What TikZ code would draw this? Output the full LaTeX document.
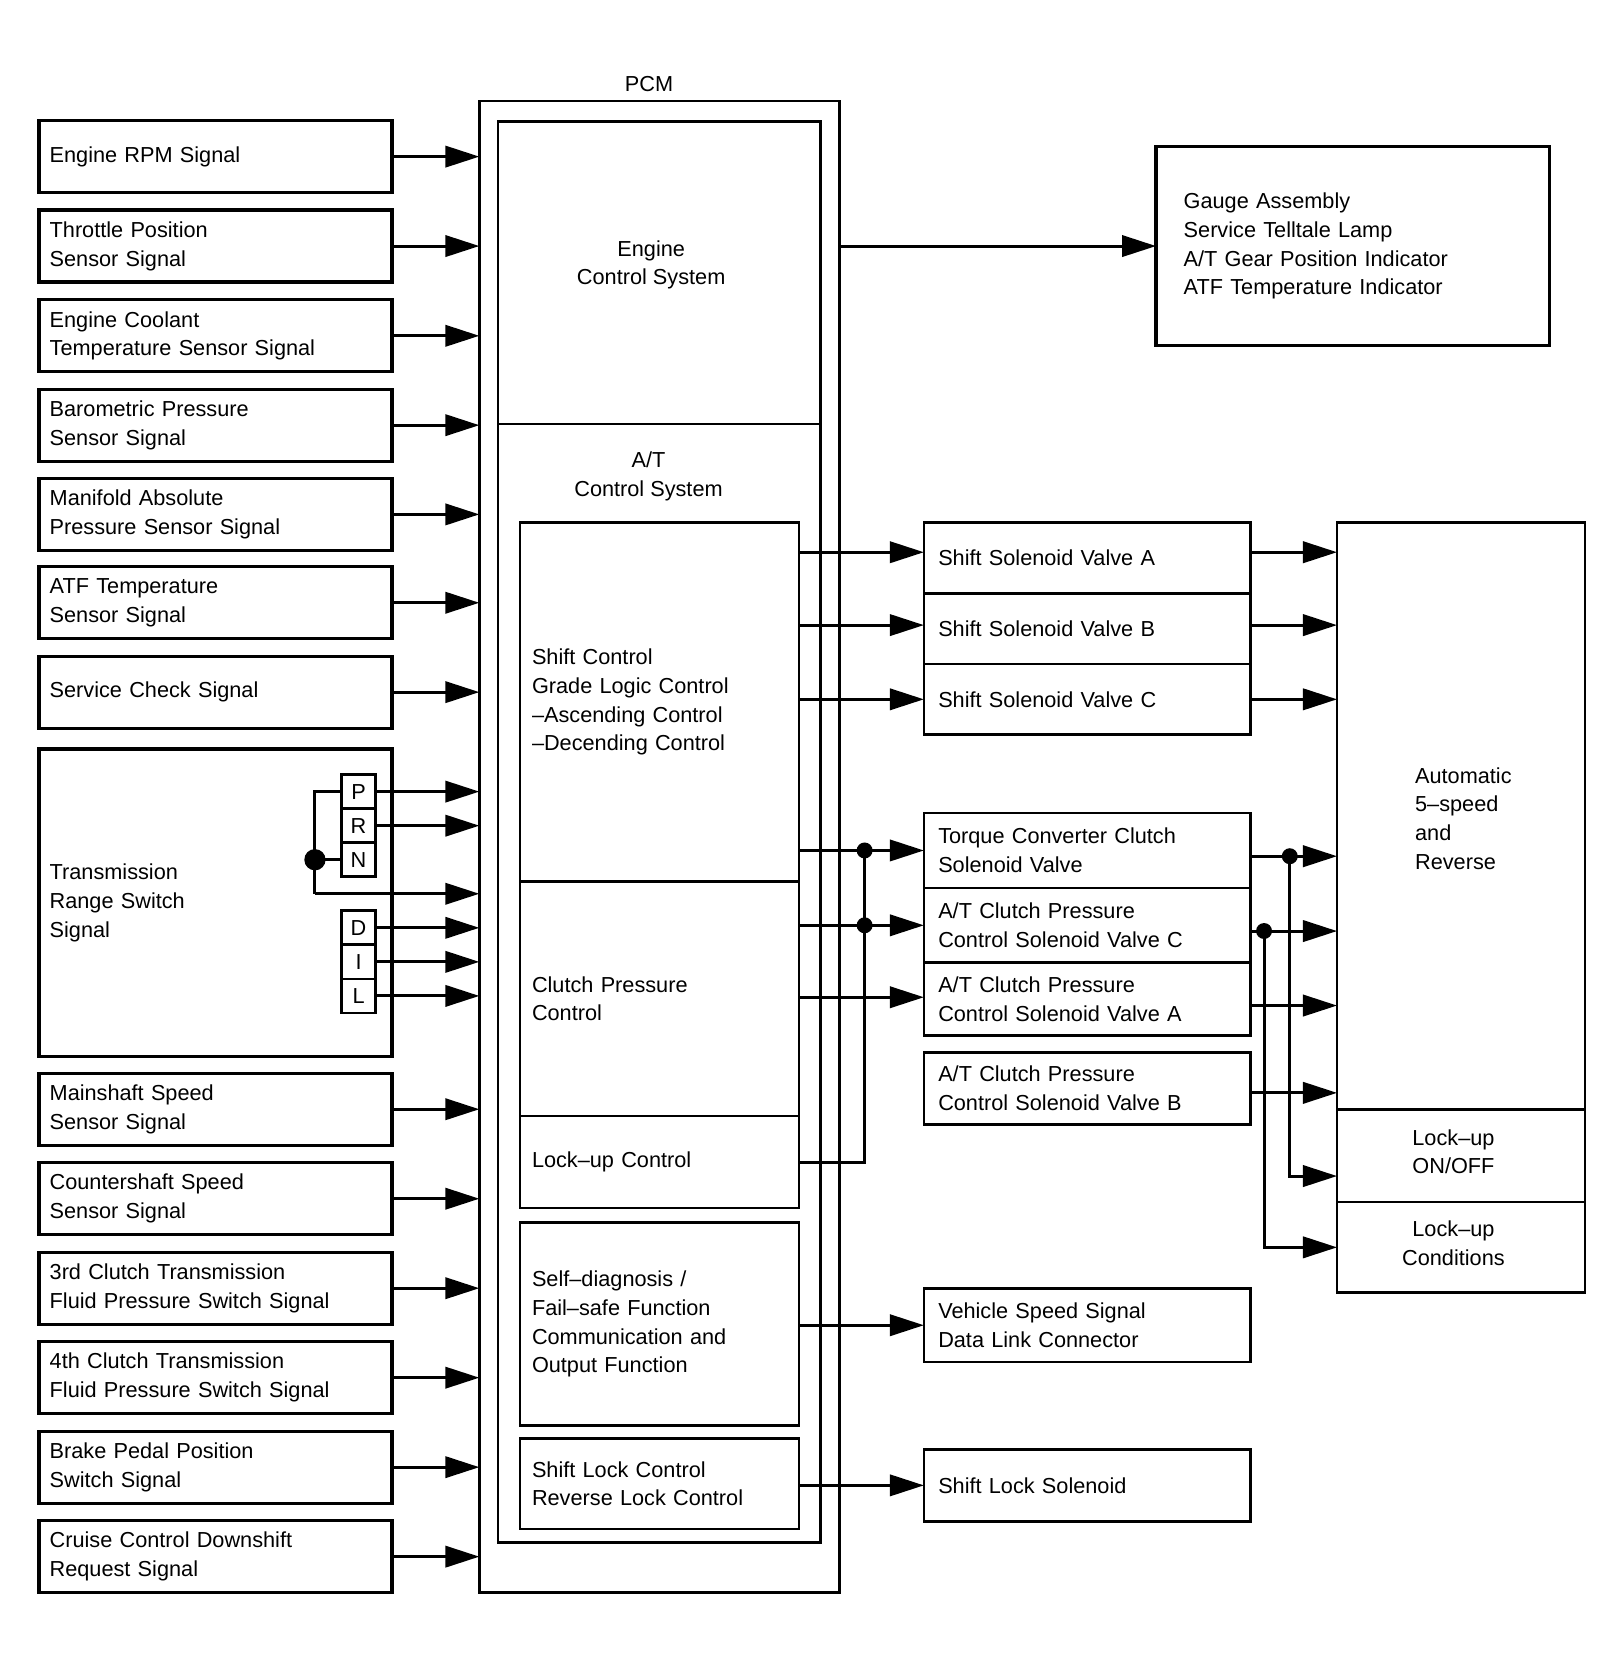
\documentclass[tikz,border=0pt]{standalone}
\usepackage{fontspec}
\setmainfont{Liberation Sans}
\usetikzlibrary{arrows.meta,calc}
\begin{document}
\begin{tikzpicture}[x=0.5pt,y=-0.5pt,
  font=\fontsize{10.2}{13.5}\selectfont,
  bx/.style={draw, line width=1.2pt, inner sep=0pt, outer sep=0pt, align=left},
  lbox/.style={bx, line width=1.5pt, minimum width=165.9pt, minimum height=33.8pt, text width=155.9pt, inner xsep=5pt},
  pbox/.style={bx, line width=1.3pt, minimum width=131.1pt, text width=119.9pt, inner xsep=5.6pt},
  sbox/.style={bx, line width=1.3pt, minimum width=153.35pt, text width=139.85pt, inner xsep=6.75pt},
  abox/.style={bx, line width=1.2pt, minimum width=116.55pt},
  ltr/.style={bx, line width=1.3pt, minimum width=16pt, minimum height=16pt, align=center},
  txt/.style={inner sep=0pt, outer sep=0pt},
  wire/.style={line width=1.4pt},
  arr/.style={line width=1.4pt, -{Triangle[length=16pt,width=10pt]}},
  dot/.style={fill=black}
]
\fill[white] (0,0) rectangle (1525.4,1568.6);
\useasboundingbox (0,0) rectangle (1525.4,1568.6);

% ---------- PCM ----------
\node[txt] (pcmlbl) at (610,79) {PCM};
\node[bx, line width=1.3pt, minimum width=169.25pt, minimum height=701pt] (pcm) at (619.75,796) {};
\node[bx, line width=1.3pt, minimum width=151.5pt, minimum height=667.75pt] (inner) at (619.5,782.25) {};
\coordinate (dv) at (0,398.5);
\draw[line width=1.3pt] (inner.west |- dv) -- (inner.east |- dv);
\node[txt, align=center] (engtxt) at (612,249) {Engine\\Control System};
\node[txt, align=center] (attxt) at (609.5,448) {A/T\\Control System};

\node[pbox, minimum height=168.8pt] (sc) at (619.9,659.8) {Shift Control\\Grade Logic Control\\–Ascending Control\\–Decending Control};
\node[pbox, minimum height=110.1pt] (cp) at (619.9,938.7) {Clutch Pressure\\Control};
\node[pbox, minimum height=43.3pt] (lu) at (619.9,1092.1) {Lock–up Control};
\node[pbox, minimum height=95.5pt] (sd) at (619.9,1244.5) {Self–diagnosis /\\Fail–safe Function\\Communication and\\Output Function};
\node[pbox, minimum height=42.5pt] (sl) at (619.9,1394.5) {Shift Lock Control\\Reverse Lock Control};

% ---------- Left inputs ----------
\node[lbox] (L1) at (202.6,147.2) {Engine RPM Signal};
\node[lbox] (L2) at (202.6,231.25) {Throttle Position\\Sensor Signal};
\node[lbox] (L3) at (202.6,315.6) {Engine Coolant\\Temperature Sensor Signal};
\node[lbox] (L4) at (202.6,399.6) {Barometric Pressure\\Sensor Signal};
\node[lbox] (L5) at (202.6,483.45) {Manifold Absolute\\Pressure Sensor Signal};
\node[lbox] (L6) at (202.6,566.5) {ATF Temperature\\Sensor Signal};
\node[lbox] (L7) at (202.6,650.5) {Service Check Signal};
\node[lbox, minimum height=144.5pt] (TR) at (202.6,848.5) {Transmission\\Range Switch\\Signal};
\node[lbox] (L9) at (202.6,1042.5) {Mainshaft Speed\\Sensor Signal};
\node[lbox] (L10) at (202.6,1126.6) {Countershaft Speed\\Sensor Signal};
\node[lbox] (L11) at (202.6,1210.7) {3rd Clutch Transmission\\Fluid Pressure Switch Signal};
\node[lbox] (L12) at (202.6,1294.8) {4th Clutch Transmission\\Fluid Pressure Switch Signal};
\node[lbox] (L13) at (202.6,1378.9) {Brake Pedal Position\\Switch Signal};
\node[lbox] (L14) at (202.6,1463) {Cruise Control Downshift\\Request Signal};

\foreach \n in {L1,L2,L3,L4,L5,L6,L7,L9,L10,L11,L12,L13,L14}
  \draw[arr] (\n.east) -- (\n.east -| pcm.west);

% range switch letters
\node[ltr] (P) at (337,744) {P};
\node[ltr] (R) at (337,776) {R};
\node[ltr] (N) at (337,808) {N};
\node[ltr] (D) at (337,872) {D};
\node[ltr] (I) at (337,904) {I};
\node[ltr] (Lt) at (337,936) {L};
\foreach \n in {P,R,D,I,Lt}
  \draw[arr] (\n.east) -- (\n.east -| pcm.west);
\coordinate (bt) at (296,744);
\coordinate (bd) at (296,808);
\coordinate (bb) at (296,840);
\draw[wire] (P.west) -- (bt) -- (bb);
\draw[wire] (bd) -- (N.west);
\draw[arr] (bb) -- (bb -| pcm.west);
\fill[dot] (bd) circle (5pt);

% ---------- Gauge ----------
\node[bx, line width=1.5pt, minimum width=184.75pt, minimum height=93.25pt, text width=158.75pt, inner xsep=13pt] (gauge) at (1271.25,231.25)
  {Gauge Assembly\\Service Telltale Lamp\\A/T Gear Position Indicator\\ATF Temperature Indicator};
\draw[arr] (pcm.east |- gauge.west) -- (gauge.west);

% ---------- Solenoids ----------
\node[sbox, minimum height=33.4pt] (ssA) at (1021.65,524.4) {Shift Solenoid Valve A};
\node[sbox, minimum height=33.1pt] (ssB) at (1021.65,590.9) {Shift Solenoid Valve B};
\node[sbox, minimum height=33.25pt] (ssC) at (1021.65,657.25) {Shift Solenoid Valve C};
\node[sbox, minimum height=35.3pt] (tcc) at (1021.65,799.3) {Torque Converter Clutch\\Solenoid Valve};
\node[sbox, minimum height=35.05pt] (cpcC) at (1021.65,869.65) {A/T Clutch Pressure\\Control Solenoid Valve C};
\node[sbox, minimum height=34.15pt] (cpcA) at (1021.65,938.85) {A/T Clutch Pressure\\Control Solenoid Valve A};
\node[sbox, minimum height=33.7pt] (cpcB) at (1021.65,1023.1) {A/T Clutch Pressure\\Control Solenoid Valve B};
\node[sbox, minimum height=34.5pt] (vss) at (1021.65,1245.5) {Vehicle Speed Signal\\Data Link Connector};
\node[sbox, minimum height=34pt] (sls) at (1021.65,1396) {Shift Lock Solenoid};

% ---------- Automatic transmission ----------
\node[abox, minimum height=276pt] (auto) at (1373.15,767) {};
\node[abox, minimum height=43.4pt] (lockon) at (1373.15,1086.4) {};
\node[abox, minimum height=42.5pt] (lockcond) at (1373.15,1172.3) {};
\node[txt, anchor=west, align=left] (autotxt) at (1330,769.3) {Automatic\\5–speed\\and\\Reverse};
\node[txt, align=center] (lockontxt) at (1366,1082.5) {Lock–up\\ON/OFF};
\node[txt, align=center] (lockcondtxt) at (1366,1168.2) {Lock–up\\Conditions};

% ---------- Connectors PCM -> solenoids ----------
\draw[arr] ([yshift=2.7pt]ssA.west -| sc.east) -- ([yshift=2.7pt]ssA.west);
\draw[arr] ([yshift=1.7pt]ssB.west -| sc.east) -- ([yshift=1.7pt]ssB.west);
\draw[arr] (ssC.west -| sc.east) -- (ssC.west);
\draw[arr] (tcc.west -| sc.east) -- (tcc.west);
\draw[arr] (cpcC.west -| cp.east) -- (cpcC.west);
\draw[arr] ([yshift=0.8pt]cpcA.west -| cp.east) -- ([yshift=0.8pt]cpcA.west);
\coordinate (j1) at (812.6,799.3);
\coordinate (j2) at (812.6,869.65);
\draw[wire] (lu.east) -| (j1);
\fill[dot] (j1) circle (3.75pt);
\fill[dot] (j2) circle (3.75pt);
\draw[arr] (vss.west -| sd.east) -- (vss.west);
\draw[arr] (sls.west -| sl.east) -- (sls.west);

% ---------- Connectors solenoids -> transmission ----------
\draw[arr] ([yshift=2.7pt]ssA.east) -- ([yshift=2.7pt]ssA.east -| auto.west);
\draw[arr] ([yshift=1.7pt]ssB.east) -- ([yshift=1.7pt]ssB.east -| auto.west);
\draw[arr] (ssC.east) -- (ssC.east -| auto.west);
\draw[arr] ([yshift=-2.7pt]tcc.east) -- ([yshift=-2.7pt]tcc.east -| auto.west);
\draw[arr] ([yshift=-2.7pt]cpcC.east) -- ([yshift=-2.7pt]cpcC.east -| auto.west);
\draw[arr] ([yshift=-3.1pt]cpcA.east) -- ([yshift=-3.1pt]cpcA.east -| auto.west);
\draw[arr] ([yshift=-2pt]cpcB.east) -- ([yshift=-2pt]cpcB.east -| auto.west);
\coordinate (j3) at (1212.2,804.7);
\coordinate (j4) at (1188,875);
\draw[arr] (j3) |- ([yshift=-9.45pt]lockon.west);
\draw[arr] (j4) |- (lockcond.west);
\fill[dot] (j3) circle (3.75pt);
\fill[dot] (j4) circle (3.75pt);
\end{tikzpicture}
\end{document}
